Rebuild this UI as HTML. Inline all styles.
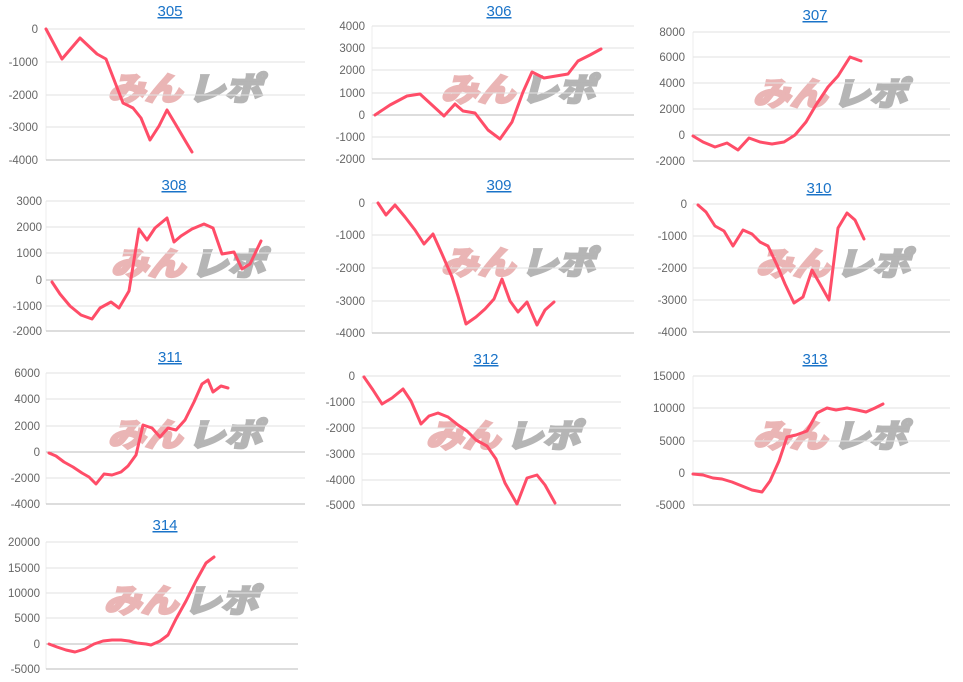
<!DOCTYPE html>
<html><head><meta charset="utf-8"><style>
body{margin:0;background:#fff;}
svg{display:block;font-family:"Liberation Sans",Arial,sans-serif;}
.t{fill:#1a73c8;font-size:15px;text-anchor:middle;text-decoration:underline;}
.l{fill:#666;font-size:11.5px;text-anchor:end;}
.g{stroke:#e2e2e2;stroke-width:1;}
.b{stroke:#bbb;stroke-width:1;}
.a{stroke:#eee;stroke-width:1;}
.p{fill:none;stroke:#ff4d68;stroke-width:3;stroke-linejoin:round;stroke-linecap:round;}
.w1{fill:#eab5b5;stroke:#eab5b5;stroke-width:3;font-size:32px;font-weight:bold;font-family:"Noto Sans CJK JP",sans-serif;}
.w2{fill:#b5b5b5;stroke:#b5b5b5;stroke-width:3;font-size:32px;font-weight:bold;font-family:"Noto Sans CJK JP",sans-serif;}
</style></head><body>
<svg width="963" height="682" viewBox="0 0 963 682">
<defs>
<g id="wm"><g transform="skewX(-15)"><text class="w1" x="0" y="0" textLength="74" lengthAdjust="spacingAndGlyphs">みん</text><text class="w2" x="80" y="0" textLength="74" lengthAdjust="spacingAndGlyphs">レポ</text></g></g>
</defs>

<!-- 305 -->
<text class="t" x="170" y="16">305</text>
<use href="#wm" x="108" y="100"/>
<line class="a" x1="46" y1="29" x2="46" y2="160"/>
<g class="g"><line x1="46" y1="29" x2="305" y2="29"/><line x1="46" y1="62" x2="305" y2="62"/><line x1="46" y1="95" x2="305" y2="95"/><line x1="46" y1="127" x2="305" y2="127"/></g>
<line class="b" x1="46" y1="160" x2="305" y2="160"/>
<g class="l"><text x="38" y="33">0</text><text x="38" y="66">-1000</text><text x="38" y="99">-2000</text><text x="38" y="131">-3000</text><text x="38" y="164">-4000</text></g>
<polyline class="p" points="46,29 62,59 80,38 97,54 106,59 123,103 133,108 141,118 150,140 159,126 167,110 176,125 186,142 192,152"/>

<!-- 306 -->
<text class="t" x="499" y="16">306</text>
<use href="#wm" x="441" y="101"/>
<line class="a" x1="372" y1="26" x2="372" y2="159"/>
<g class="g"><line x1="372" y1="26" x2="634" y2="26"/><line x1="372" y1="48" x2="634" y2="48"/><line x1="372" y1="70" x2="634" y2="70"/><line x1="372" y1="93" x2="634" y2="93"/><line x1="372" y1="137" x2="634" y2="137"/></g>
<line class="b" x1="372" y1="115" x2="634" y2="115"/>
<line class="b" x1="372" y1="159" x2="634" y2="159"/>
<g class="l"><text x="365" y="30">4000</text><text x="365" y="52">3000</text><text x="365" y="74">2000</text><text x="365" y="97">1000</text><text x="365" y="119">0</text><text x="365" y="141">-1000</text><text x="365" y="163">-2000</text></g>
<polyline class="p" points="375,115 390,105 407,96 420,94 432,105 444,116 455,104 463,111 475,113 488,130 500,139 512,122 523,92 532,72 544,78 556,76 568,74 578,61 590,55 601,49"/>

<!-- 307 -->
<text class="t" x="815" y="20">307</text>
<use href="#wm" x="753" y="105"/>
<line class="a" x1="693" y1="32" x2="693" y2="161"/>
<g class="g"><line x1="693" y1="32" x2="950" y2="32"/><line x1="693" y1="57" x2="950" y2="57"/><line x1="693" y1="83" x2="950" y2="83"/><line x1="693" y1="109" x2="950" y2="109"/></g>
<line class="b" x1="693" y1="135" x2="950" y2="135"/>
<line class="b" x1="693" y1="161" x2="950" y2="161"/>
<g class="l"><text x="685" y="36">8000</text><text x="685" y="61">6000</text><text x="685" y="87">4000</text><text x="685" y="113">2000</text><text x="685" y="139">0</text><text x="685" y="165">-2000</text></g>
<polyline class="p" points="693,136 703,142 715,147 727,143 738,150 749,138 760,142 772,144 784,142 795,135 806,122 816,105 828,87 838,76 850,57 861,61"/>

<!-- 308 -->
<text class="t" x="174" y="190">308</text>
<use href="#wm" x="111" y="275"/>
<line class="a" x1="46" y1="201" x2="46" y2="331"/>
<g class="g"><line x1="46" y1="201" x2="305" y2="201"/><line x1="46" y1="227" x2="305" y2="227"/><line x1="46" y1="253" x2="305" y2="253"/><line x1="46" y1="306" x2="305" y2="306"/></g>
<line class="b" x1="46" y1="280" x2="305" y2="280"/>
<line class="b" x1="46" y1="331" x2="305" y2="331"/>
<g class="l"><text x="42" y="205">3000</text><text x="42" y="231">2000</text><text x="42" y="257">1000</text><text x="42" y="284">0</text><text x="42" y="310">-1000</text><text x="42" y="335">-2000</text></g>
<polyline class="p" points="52,282 60,294 70,306 81,315 92,319 100,308 111,302 119,308 129,291 139,229 147,240 155,228 167,218 174,242 181,236 192,229 204,224 213,228 222,254 234,252 242,269 250,264 261,241"/>

<!-- 309 -->
<text class="t" x="499" y="190">309</text>
<use href="#wm" x="441" y="274"/>
<line class="a" x1="372" y1="203" x2="372" y2="333"/>
<g class="g"><line x1="372" y1="203" x2="634" y2="203"/><line x1="372" y1="235" x2="634" y2="235"/><line x1="372" y1="268" x2="634" y2="268"/><line x1="372" y1="301" x2="634" y2="301"/></g>
<line class="b" x1="372" y1="333" x2="634" y2="333"/>
<g class="l"><text x="365" y="207">0</text><text x="365" y="239">-1000</text><text x="365" y="272">-2000</text><text x="365" y="305">-3000</text><text x="365" y="337">-4000</text></g>
<polyline class="p" points="378,203 386,215 395,205 405,217 415,230 424,244 433,234 442,254 452,277 458,296 466,324 476,317 485,309 494,299 502,279 510,301 518,312 527,302 537,325 545,310 554,302"/>

<!-- 310 -->
<text class="t" x="819" y="193">310</text>
<use href="#wm" x="756" y="275"/>
<line class="a" x1="693" y1="204" x2="693" y2="332"/>
<g class="g"><line x1="693" y1="204" x2="950" y2="204"/><line x1="693" y1="236" x2="950" y2="236"/><line x1="693" y1="268" x2="950" y2="268"/><line x1="693" y1="300" x2="950" y2="300"/></g>
<line class="b" x1="693" y1="332" x2="950" y2="332"/>
<g class="l"><text x="687" y="208">0</text><text x="687" y="240">-1000</text><text x="687" y="272">-2000</text><text x="687" y="304">-3000</text><text x="687" y="336">-4000</text></g>
<polyline class="p" points="698,205 706,212 715,226 724,231 733,246 743,230 752,234 760,242 768,246 777,265 785,284 794,303 803,297 812,270 820,284 829,300 838,228 847,213 855,220 864,239"/>

<!-- 311 -->
<text class="t" x="170" y="362">311</text>
<use href="#wm" x="108" y="446"/>
<line class="a" x1="46" y1="373" x2="46" y2="504"/>
<g class="g"><line x1="46" y1="373" x2="305" y2="373"/><line x1="46" y1="399" x2="305" y2="399"/><line x1="46" y1="426" x2="305" y2="426"/><line x1="46" y1="478" x2="305" y2="478"/></g>
<line class="b" x1="46" y1="452" x2="305" y2="452"/>
<line class="b" x1="46" y1="504" x2="305" y2="504"/>
<g class="l"><text x="40" y="377">6000</text><text x="40" y="403">4000</text><text x="40" y="430">2000</text><text x="40" y="456">0</text><text x="40" y="482">-2000</text><text x="40" y="508">-4000</text></g>
<polyline class="p" points="49,453 56,456 64,462 73,467 82,473 89,477 96,484 104,474 112,475 121,472 128,466 136,455 143,425 152,428 160,437 168,428 176,430 185,420 194,402 202,384 208,380 213,392 221,386 228,388"/>

<!-- 312 -->
<text class="t" x="486" y="364">312</text>
<use href="#wm" x="426" y="447"/>
<line class="a" x1="362" y1="376" x2="362" y2="505"/>
<g class="g"><line x1="362" y1="376" x2="621" y2="376"/><line x1="362" y1="402" x2="621" y2="402"/><line x1="362" y1="428" x2="621" y2="428"/><line x1="362" y1="454" x2="621" y2="454"/><line x1="362" y1="480" x2="621" y2="480"/></g>
<line class="b" x1="362" y1="505" x2="621" y2="505"/>
<g class="l"><text x="355" y="380">0</text><text x="355" y="406">-1000</text><text x="355" y="432">-2000</text><text x="355" y="458">-3000</text><text x="355" y="484">-4000</text><text x="355" y="509">-5000</text></g>
<polyline class="p" points="364,377 373,390 382,404 392,398 403,389 411,401 421,424 429,416 438,413 448,417 458,425 467,431 476,440 487,446 496,459 505,483 517,504 527,478 537,475 545,485 555,503"/>

<!-- 313 -->
<text class="t" x="815" y="364">313</text>
<use href="#wm" x="753" y="447"/>
<line class="a" x1="693" y1="376" x2="693" y2="505"/>
<g class="g"><line x1="693" y1="376" x2="950" y2="376"/><line x1="693" y1="408" x2="950" y2="408"/><line x1="693" y1="441" x2="950" y2="441"/></g>
<line class="b" x1="693" y1="473" x2="950" y2="473"/>
<line class="b" x1="693" y1="505" x2="950" y2="505"/>
<g class="l"><text x="685" y="380">15000</text><text x="685" y="412">10000</text><text x="685" y="445">5000</text><text x="685" y="477">0</text><text x="685" y="509">-5000</text></g>
<polyline class="p" points="693,474 703,475 713,478 722,479 732,482 742,486 752,490 762,492 770,481 779,461 787,437 796,435 807,431 817,413 827,408 836,410 847,408 857,410 866,412 875,408 883,404"/>

<!-- 314 -->
<text class="t" x="165" y="530">314</text>
<use href="#wm" x="104" y="612"/>
<line class="a" x1="46" y1="542" x2="46" y2="669"/>
<g class="g"><line x1="46" y1="542" x2="298" y2="542"/><line x1="46" y1="568" x2="298" y2="568"/><line x1="46" y1="593" x2="298" y2="593"/><line x1="46" y1="618" x2="298" y2="618"/></g>
<line class="b" x1="46" y1="644" x2="298" y2="644"/>
<line class="b" x1="46" y1="669" x2="298" y2="669"/>
<g class="l"><text x="40" y="546">20000</text><text x="40" y="572">15000</text><text x="40" y="597">10000</text><text x="40" y="622">5000</text><text x="40" y="648">0</text><text x="40" y="673">-5000</text></g>
<polyline class="p" points="49,644 57,647 66,650 75,652 85,649 94,644 103,641 112,640 121,640 129,641 137,643 146,644 151,645 160,641 168,635 176,619 186,601 196,581 206,563 214,557"/>
</svg>
</body></html>
